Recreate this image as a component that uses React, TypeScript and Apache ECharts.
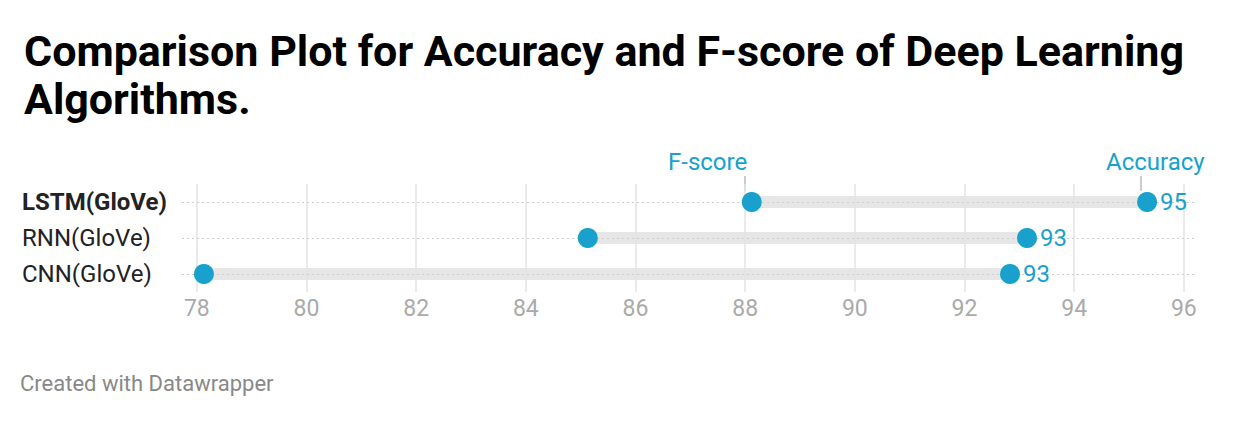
import React, { useEffect, useRef } from "react";
import * as echarts from "echarts";

const CATEGORIES = ["LSTM(GloVe)", "RNN(GloVe)", "CNN(GloVe)"];
const F_SCORE = [88.12, 85.13, 78.13];
const ACCURACY = [95.33, 93.14, 92.83];
const TICKS = [78, 80, 82, 84, 86, 88, 90, 92, 94, 96];

const BLUE = "#18a1cd";
const FONT = "Roboto, 'Noto Sans', sans-serif";

export default function App() {
  const ref = useRef<HTMLDivElement>(null);
  useEffect(() => {
    document.body.style.margin = "0";
    const chart = echarts.init(ref.current!, null, { renderer: "svg" });
    const rangeData = CATEGORIES.map((c, i) => [F_SCORE[i], ACCURACY[i], i]);
    chart.setOption({
      animation: false,
      backgroundColor: "#fff",
      textStyle: { fontFamily: FONT },
      title: {
        text: "Comparison Plot for Accuracy and F-score of Deep Learning\nAlgorithms.",
        left: 19,
        top: 22,
        textStyle: {
          fontFamily: FONT,
          fontSize: 43,
          fontWeight: 700,
          color: "#000",
          lineHeight: 48,
        },
      },
      grid: { left: 182, right: 43, top: 184, height: 108 },
      xAxis: {
        type: "value",
        min: 77.73,
        max: 96.24,
        axisLine: { show: false },
        axisTick: { show: false },
        splitLine: { show: false },
        axisLabel: {
          customValues: TICKS,
          color: "#aaa",
          fontSize: 23,
          margin: 5,
          fontFamily: FONT,
        },
      },
      yAxis: {
        type: "category",
        inverse: true,
        data: CATEGORIES,
        axisLine: { show: false },
        axisTick: { show: false },
        splitLine: { show: false },
        axisLabel: {
          align: "left",
          margin: 160,
          fontSize: 24,
          color: "#222",
          fontFamily: FONT,
          formatter: (v: string) => (v === CATEGORIES[0] ? "{b|" + v + "}" : v),
          rich: {
            b: { fontWeight: 700, fontSize: 24, color: "#222", fontFamily: FONT },
          },
        },
      },
      series: [
        {
          type: "scatter",
          name: "grid",
          data: [],
          silent: true,
          markLine: {
            silent: true,
            symbol: "none",
            label: { show: false },
            data: [
              ...TICKS.map((t) => ({
                xAxis: t,
                lineStyle: { color: "#e3e3e3", width: 1.5, type: "solid" },
              })),
              ...CATEGORIES.map((c, i) => ({
                yAxis: i,
                lineStyle: { color: "#cfcfcf", width: 1, type: [2, 3] },
              })),
            ],
          },
          z: 1,
        },
        {
          type: "custom",
          name: "range",
          silent: true,
          data: rangeData,
          encode: { x: [0, 1], y: 2 },
          renderItem: (params: any, api: any) => {
            const a = api.coord([api.value(0), api.value(2)]);
            const b = api.coord([api.value(1), api.value(2)]);
            const h = 12;
            return {
              type: "rect",
              shape: { x: a[0], y: a[1] - h / 2, width: b[0] - a[0], height: h },
              style: { fill: "#e6e6e6" },
            };
          },
          z: 2,
        },
        {
          type: "scatter",
          name: "F-score",
          data: F_SCORE.map((v, i) => [v, i]),
          symbolSize: 20,
          itemStyle: { color: BLUE, opacity: 1 },
          z: 5,
        },
        {
          type: "scatter",
          name: "Accuracy",
          data: ACCURACY.map((v, i) => [v, i]),
          symbolSize: 20,
          itemStyle: { color: BLUE, opacity: 1 },
          label: {
            show: true,
            position: "right",
            distance: 3,
            color: BLUE,
            fontSize: 24,
            fontFamily: FONT,
            formatter: (p: any) => String(Math.round(p.value[0])),
          },
          z: 5,
        },
      ],
      graphic: [
        {
          type: "text",
          left: 668,
          top: 150,
          style: { text: "F-score", fill: BLUE, fontSize: 24, fontFamily: FONT },
        },
        {
          type: "line",
          shape: { x1: 745, y1: 176, x2: 745, y2: 191 },
          style: { stroke: "#999", lineWidth: 1 },
        },
        {
          type: "text",
          left: 1106,
          top: 150,
          style: { text: "Accuracy", fill: BLUE, fontSize: 24, fontFamily: FONT },
        },
        {
          type: "line",
          shape: { x1: 1141, y1: 176, x2: 1141, y2: 191 },
          style: { stroke: "#999", lineWidth: 1 },
        },
        {
          type: "text",
          left: 20,
          top: 372,
          style: {
            text: "Created with Datawrapper",
            fill: "#888",
            fontSize: 22,
            fontFamily: FONT,
          },
        },
      ],
    });
    return () => chart.dispose();
  }, []);
  return <div ref={ref} style={{ width: 1240, height: 426 }} />;
}
